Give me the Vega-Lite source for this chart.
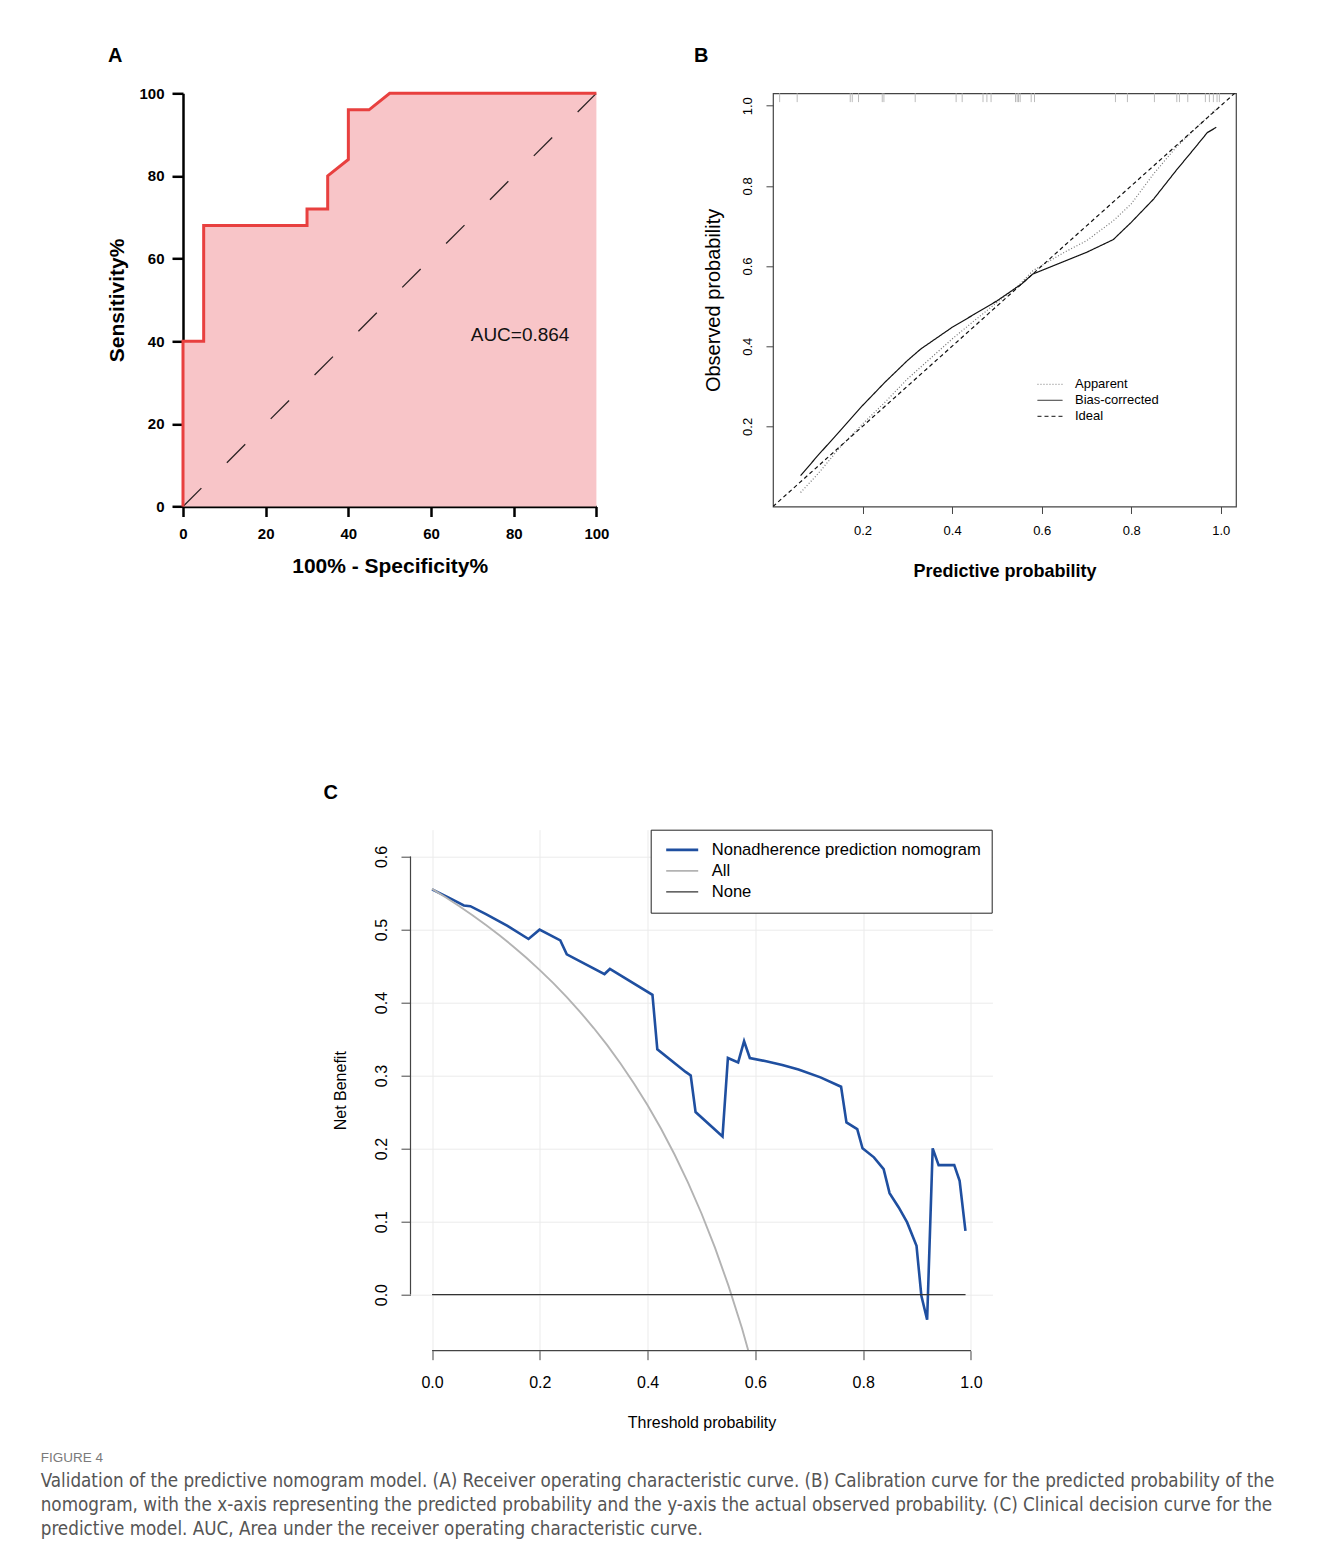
{
  "$schema": "https://vega.github.io/schema/vega-lite/v6.json",
  "background": "white",
  "padding": {"left": 40, "top": 44.3, "right": 5, "bottom": 5},
  "bounds": "full",
  "spacing": 201.4,
  "config": {
    "font": "Liberation Sans",
    "view": {"stroke": null},
    "axis": {"grid": false, "labelColor": "#000", "titleColor": "#000", "tickColor": "#000", "domainColor": "#000", "labelFlush": false, "labelOverlap": false}
  },
  "title": {
    "text": "FIGURE 4",
    "subtitle": [
      "Validation of the predictive nomogram model. (A) Receiver operating characteristic curve. (B) Calibration curve for the predicted probability of the",
      "nomogram, with the x-axis representing the predicted probability and the y-axis the actual observed probability. (C) Clinical decision curve for the",
      "predictive model. AUC, Area under the receiver operating characteristic curve."
    ],
    "orient": "bottom",
    "anchor": "start",
    "frame": "group",
    "dx": -142.3,
    "offset": 20.7,
    "font": "Liberation Sans",
    "fontSize": 13.5,
    "fontWeight": "normal",
    "color": "#7a7a7a",
    "subtitleFont": "DejaVu Sans Condensed, Roboto",
    "subtitleFontSize": 18.7,
    "subtitleColor": "#555555",
    "subtitleLineHeight": 24,
    "subtitlePadding": 7.5
  },
  "datasets": {
    "roc": [
      {"fpr": 0, "tpr": 0, "o": 1},
      {"fpr": 0, "tpr": 40, "o": 2},
      {"fpr": 5, "tpr": 40, "o": 3},
      {"fpr": 5, "tpr": 68, "o": 4},
      {"fpr": 30, "tpr": 68, "o": 5},
      {"fpr": 30, "tpr": 72, "o": 6},
      {"fpr": 35, "tpr": 72, "o": 7},
      {"fpr": 35, "tpr": 80, "o": 8},
      {"fpr": 40, "tpr": 84, "o": 9},
      {"fpr": 40, "tpr": 96, "o": 10},
      {"fpr": 45, "tpr": 96, "o": 11},
      {"fpr": 50, "tpr": 100, "o": 12},
      {"fpr": 100, "tpr": 100, "o": 13}
    ],
    "diag": [{"fpr": 0, "tpr": 0}, {"fpr": 100, "tpr": 100}],
    "rug": [
      {"p": 0.0148}, {"p": 0.054}, {"p": 0.1725}, {"p": 0.177}, {"p": 0.191}, {"p": 0.244}, {"p": 0.2477},
      {"p": 0.3176}, {"p": 0.409}, {"p": 0.4225}, {"p": 0.469}, {"p": 0.4777}, {"p": 0.487}, {"p": 0.5416},
      {"p": 0.5453}, {"p": 0.5483}, {"p": 0.552}, {"p": 0.5766}, {"p": 0.584}, {"p": 0.7648}, {"p": 0.7915},
      {"p": 0.8518}, {"p": 0.9018}, {"p": 0.9077}, {"p": 0.9263}, {"p": 0.9656}, {"p": 0.9746}, {"p": 0.9835},
      {"p": 0.9917}, {"p": 0.9969}
    ],
    "calib": [
      {"series": "Apparent", "x": 0.0616, "y": 0.035},
      {"series": "Apparent", "x": 0.1, "y": 0.081},
      {"series": "Apparent", "x": 0.15, "y": 0.148},
      {"series": "Apparent", "x": 0.2, "y": 0.206},
      {"series": "Apparent", "x": 0.25, "y": 0.26},
      {"series": "Apparent", "x": 0.3, "y": 0.318},
      {"series": "Apparent", "x": 0.35, "y": 0.368},
      {"series": "Apparent", "x": 0.4, "y": 0.418},
      {"series": "Apparent", "x": 0.45, "y": 0.464},
      {"series": "Apparent", "x": 0.5, "y": 0.509},
      {"series": "Apparent", "x": 0.55, "y": 0.553},
      {"series": "Apparent", "x": 0.58, "y": 0.588},
      {"series": "Apparent", "x": 0.65, "y": 0.634},
      {"series": "Apparent", "x": 0.7, "y": 0.663},
      {"series": "Apparent", "x": 0.76, "y": 0.713},
      {"series": "Apparent", "x": 0.8, "y": 0.755},
      {"series": "Apparent", "x": 0.85, "y": 0.83},
      {"series": "Apparent", "x": 0.9, "y": 0.896},
      {"series": "Apparent", "x": 0.95, "y": 0.95},
      {"series": "Apparent", "x": 0.99, "y": 0.992},
      {"series": "Bias-corrected", "x": 0.0616, "y": 0.0769},
      {"series": "Bias-corrected", "x": 0.1, "y": 0.127},
      {"series": "Bias-corrected", "x": 0.15, "y": 0.189},
      {"series": "Bias-corrected", "x": 0.2, "y": 0.252},
      {"series": "Bias-corrected", "x": 0.25, "y": 0.31},
      {"series": "Bias-corrected", "x": 0.3, "y": 0.364},
      {"series": "Bias-corrected", "x": 0.33, "y": 0.393},
      {"series": "Bias-corrected", "x": 0.4, "y": 0.447},
      {"series": "Bias-corrected", "x": 0.45, "y": 0.48},
      {"series": "Bias-corrected", "x": 0.5, "y": 0.513},
      {"series": "Bias-corrected", "x": 0.555, "y": 0.555},
      {"series": "Bias-corrected", "x": 0.58, "y": 0.58},
      {"series": "Bias-corrected", "x": 0.7, "y": 0.634},
      {"series": "Bias-corrected", "x": 0.76, "y": 0.666},
      {"series": "Bias-corrected", "x": 0.8, "y": 0.709},
      {"series": "Bias-corrected", "x": 0.85, "y": 0.767},
      {"series": "Bias-corrected", "x": 0.9, "y": 0.838},
      {"series": "Bias-corrected", "x": 0.94, "y": 0.892},
      {"series": "Bias-corrected", "x": 0.97, "y": 0.933},
      {"series": "Bias-corrected", "x": 0.99, "y": 0.946},
      {"series": "Ideal", "x": 0, "y": 0},
      {"series": "Ideal", "x": 1.031, "y": 1.031}
    ],
    "dca": [
      {"model": "Nonadherence prediction nomogram", "t": 0, "nb": 0.555},
      {"model": "Nonadherence prediction nomogram", "t": 0.03, "nb": 0.544},
      {"model": "Nonadherence prediction nomogram", "t": 0.059, "nb": 0.533},
      {"model": "Nonadherence prediction nomogram", "t": 0.071, "nb": 0.532},
      {"model": "Nonadherence prediction nomogram", "t": 0.1, "nb": 0.521},
      {"model": "Nonadherence prediction nomogram", "t": 0.14, "nb": 0.505},
      {"model": "Nonadherence prediction nomogram", "t": 0.179, "nb": 0.487},
      {"model": "Nonadherence prediction nomogram", "t": 0.1995, "nb": 0.4998},
      {"model": "Nonadherence prediction nomogram", "t": 0.238, "nb": 0.485},
      {"model": "Nonadherence prediction nomogram", "t": 0.25, "nb": 0.466},
      {"model": "Nonadherence prediction nomogram", "t": 0.32, "nb": 0.439},
      {"model": "Nonadherence prediction nomogram", "t": 0.33, "nb": 0.446},
      {"model": "Nonadherence prediction nomogram", "t": 0.409, "nb": 0.4105},
      {"model": "Nonadherence prediction nomogram", "t": 0.418, "nb": 0.336},
      {"model": "Nonadherence prediction nomogram", "t": 0.4706, "nb": 0.305},
      {"model": "Nonadherence prediction nomogram", "t": 0.48, "nb": 0.3},
      {"model": "Nonadherence prediction nomogram", "t": 0.489, "nb": 0.25},
      {"model": "Nonadherence prediction nomogram", "t": 0.539, "nb": 0.2166},
      {"model": "Nonadherence prediction nomogram", "t": 0.549, "nb": 0.324},
      {"model": "Nonadherence prediction nomogram", "t": 0.568, "nb": 0.318},
      {"model": "Nonadherence prediction nomogram", "t": 0.579, "nb": 0.347},
      {"model": "Nonadherence prediction nomogram", "t": 0.5897, "nb": 0.324},
      {"model": "Nonadherence prediction nomogram", "t": 0.62, "nb": 0.3196},
      {"model": "Nonadherence prediction nomogram", "t": 0.65, "nb": 0.3145},
      {"model": "Nonadherence prediction nomogram", "t": 0.68, "nb": 0.3083},
      {"model": "Nonadherence prediction nomogram", "t": 0.7208, "nb": 0.2975},
      {"model": "Nonadherence prediction nomogram", "t": 0.759, "nb": 0.2847},
      {"model": "Nonadherence prediction nomogram", "t": 0.769, "nb": 0.2359},
      {"model": "Nonadherence prediction nomogram", "t": 0.789, "nb": 0.2267},
      {"model": "Nonadherence prediction nomogram", "t": 0.7988, "nb": 0.2003},
      {"model": "Nonadherence prediction nomogram", "t": 0.82, "nb": 0.188},
      {"model": "Nonadherence prediction nomogram", "t": 0.838, "nb": 0.1719},
      {"model": "Nonadherence prediction nomogram", "t": 0.849, "nb": 0.139},
      {"model": "Nonadherence prediction nomogram", "t": 0.866, "nb": 0.1194},
      {"model": "Nonadherence prediction nomogram", "t": 0.8816, "nb": 0.0989},
      {"model": "Nonadherence prediction nomogram", "t": 0.899, "nb": 0.0669},
      {"model": "Nonadherence prediction nomogram", "t": 0.908, "nb": -0.0016},
      {"model": "Nonadherence prediction nomogram", "t": 0.9187, "nb": -0.0345},
      {"model": "Nonadherence prediction nomogram", "t": 0.929, "nb": 0.2003},
      {"model": "Nonadherence prediction nomogram", "t": 0.94, "nb": 0.1774},
      {"model": "Nonadherence prediction nomogram", "t": 0.969, "nb": 0.1774},
      {"model": "Nonadherence prediction nomogram", "t": 0.979, "nb": 0.1559},
      {"model": "Nonadherence prediction nomogram", "t": 0.9898, "nb": 0.0874},
      {"model": "All", "t": 0, "nb": 0.5556},
      {"model": "All", "t": 0.025, "nb": 0.5442},
      {"model": "All", "t": 0.05, "nb": 0.5322},
      {"model": "All", "t": 0.075, "nb": 0.5196},
      {"model": "All", "t": 0.1, "nb": 0.5062},
      {"model": "All", "t": 0.125, "nb": 0.4921},
      {"model": "All", "t": 0.15, "nb": 0.4772},
      {"model": "All", "t": 0.175, "nb": 0.4613},
      {"model": "All", "t": 0.2, "nb": 0.4444},
      {"model": "All", "t": 0.225, "nb": 0.4266},
      {"model": "All", "t": 0.25, "nb": 0.4074},
      {"model": "All", "t": 0.275, "nb": 0.387},
      {"model": "All", "t": 0.3, "nb": 0.3651},
      {"model": "All", "t": 0.325, "nb": 0.3416},
      {"model": "All", "t": 0.35, "nb": 0.3162},
      {"model": "All", "t": 0.375, "nb": 0.2889},
      {"model": "All", "t": 0.4, "nb": 0.2593},
      {"model": "All", "t": 0.425, "nb": 0.2271},
      {"model": "All", "t": 0.45, "nb": 0.1919},
      {"model": "All", "t": 0.475, "nb": 0.1535},
      {"model": "All", "t": 0.5, "nb": 0.1111},
      {"model": "All", "t": 0.525, "nb": 0.0643},
      {"model": "All", "t": 0.55, "nb": 0.0123},
      {"model": "All", "t": 0.575, "nb": -0.0458},
      {"model": "All", "t": 0.6, "nb": -0.1111},
      {"model": "None", "t": 0, "nb": 0},
      {"model": "None", "t": 0.99, "nb": 0}
    ]
  },
  "resolve": {
    "scale": {"color": "independent", "strokeDash": "independent", "strokeWidth": "independent"},
    "legend": {"color": "independent", "strokeDash": "independent"}
  },
  "vconcat": [
    {
      "bounds": "flush",
      "spacing": 176,
      "resolve": {
        "scale": {"color": "independent", "strokeDash": "independent"},
        "legend": {"color": "independent", "strokeDash": "independent"}
      },
      "hconcat": [
        {
          "width": 413.4,
          "height": 413.2,
          "title": {"text": "A", "anchor": "start", "frame": "group", "dx": -75, "offset": 20.6, "fontSize": 20, "fontWeight": "bold", "color": "#000"},
          "layer": [
            {
              "data": {"name": "roc"},
              "mark": {"type": "area", "color": "#f8c5c8"},
              "encoding": {
                "x": {"field": "fpr", "type": "quantitative", "scale": {"domain": [0, 100], "nice": false},
                  "axis": {"values": [0, 20, 40, 60, 80, 100], "title": "100% - Specificity%", "titleFontSize": 21, "titleFontWeight": "bold", "titlePadding": 13.5, "labelFontSize": 15, "labelFontWeight": "bold", "labelPadding": 10.5, "tickSize": 10, "tickWidth": 2.5, "domainWidth": 2.5}},
                "y": {"field": "tpr", "type": "quantitative", "stack": null, "scale": {"domain": [0, 100], "nice": false},
                  "axis": {"values": [0, 20, 40, 60, 80, 100], "title": "Sensitivity%", "titleFontSize": 21, "titleFontWeight": "bold", "titlePadding": 11.6, "labelFontSize": 15, "labelFontWeight": "bold", "labelPadding": 8, "tickSize": 11, "tickWidth": 2.5, "domainWidth": 2.5}}
              }
            },
            {
              "data": {"name": "diag"},
              "mark": {"type": "line", "color": "#2b2424", "strokeWidth": 1.3, "strokeDash": [26, 36]},
              "encoding": {
                "x": {"field": "fpr", "type": "quantitative"},
                "y": {"field": "tpr", "type": "quantitative"}
              }
            },
            {
              "data": {"name": "roc"},
              "mark": {"type": "line", "color": "#e8403f", "strokeWidth": 3},
              "encoding": {
                "x": {"field": "fpr", "type": "quantitative"},
                "y": {"field": "tpr", "type": "quantitative"},
                "order": {"field": "o", "type": "quantitative"}
              }
            },
            {
              "data": {"values": [{"label": "AUC=0.864"}]},
              "mark": {"type": "text", "fontSize": 19, "align": "left", "baseline": "middle", "color": "#111"},
              "encoding": {
                "x": {"datum": 69.6},
                "y": {"datum": 41.5},
                "text": {"field": "label"}
              }
            }
          ]
        },
        {
          "width": 463,
          "height": 413.2,
          "view": {"stroke": "#444", "strokeWidth": 1.2},
          "title": {"text": "B", "anchor": "start", "frame": "group", "dx": -79, "offset": 27.1, "fontSize": 20, "fontWeight": "bold", "color": "#000"},
          "layer": [
            {
              "data": {"name": "rug"},
              "mark": {"type": "rule", "color": "#bbbbbb", "strokeWidth": 1},
              "encoding": {
                "x": {"field": "p", "type": "quantitative", "scale": {"domain": [0, 1.034], "nice": false, "zero": false},
                  "axis": {"values": [0.2, 0.4, 0.6, 0.8, 1.0], "format": ".1f", "domain": false, "tickSize": 7, "tickColor": "#444", "labelFontSize": 13, "labelPadding": 11, "title": "Predictive probability", "titleFontSize": 18, "titleFontWeight": "bold", "titlePadding": 25}},
                "y": {"datum": 1.009, "scale": {"domain": [0, 1.031], "nice": false, "zero": false},
                  "axis": {"values": [0.2, 0.4, 0.6, 0.8, 1.0], "format": ".1f", "domain": false, "tickSize": 7, "tickColor": "#444", "labelAngle": -90, "labelAlign": "center", "labelBaseline": "bottom", "labelPadding": 11, "labelFontSize": 13, "title": "Observed probability", "titleFontSize": 20, "titleFontWeight": "normal", "titlePadding": 18}},
                "y2": {"datum": 1.031}
              }
            },
            {
              "data": {"name": "calib"},
              "mark": {"type": "line", "strokeWidth": 1.2, "clip": true},
              "encoding": {
                "x": {"field": "x", "type": "quantitative"},
                "y": {"field": "y", "type": "quantitative"},
                "color": {"field": "series", "type": "nominal",
                  "scale": {"domain": ["Apparent", "Bias-corrected", "Ideal"], "range": ["#777777", "#111111", "#111111"]},
                  "legend": {"orient": "none", "legendX": 264, "legendY": 283.1, "title": null, "symbolType": "stroke", "symbolSize": 625, "symbolStrokeWidth": 1, "labelFontSize": 13, "labelOffset": 12, "rowPadding": 0, "clipHeight": 15.8, "padding": 0, "labelColor": "#000"}},
                "strokeDash": {"field": "series", "type": "nominal",
                  "scale": {"domain": ["Apparent", "Bias-corrected", "Ideal"], "range": [[1, 2], [1, 0], [4, 3]]},
                  "legend": {"orient": "none", "legendX": 264, "legendY": 283.1, "title": null, "symbolType": "stroke", "symbolSize": 625, "symbolStrokeWidth": 1, "labelFontSize": 13, "labelOffset": 12, "rowPadding": 0, "clipHeight": 15.8, "padding": 0, "labelColor": "#000"}}
              }
            }
          ]
        }
      ]
    },
    {
      "bounds": "flush",
      "spacing": 226.5,
      "resolve": {
        "scale": {"color": "independent", "strokeWidth": "independent"},
        "legend": {"color": "independent"}
      },
      "hconcat": [
        {
          "width": 1,
          "height": 1,
          "data": {"values": []},
          "mark": "point"
        },
        {
          "width": 582,
          "height": 521,
          "title": {"text": "C", "anchor": "start", "frame": "group", "dx": -87, "offset": 26.5, "fontSize": 20, "fontWeight": "bold", "color": "#000"},
          "layer": [
            {
              "data": {"name": "dca"},
              "mark": {"type": "line", "clip": true},
              "encoding": {
                "x": {"field": "t", "type": "quantitative", "scale": {"domain": [-0.04, 1.04], "nice": false, "zero": false},
                  "axis": {"values": [0, 0.2, 0.4, 0.6, 0.8, 1.0], "format": ".1f", "domain": false, "grid": true, "gridColor": "#ebebeb", "tickSize": 9, "tickColor": "#444", "labelFontSize": 16, "labelPadding": 15, "title": "Threshold probability", "titleFontSize": 16, "titleFontWeight": "normal", "titlePadding": 24}},
                "y": {"field": "nb", "type": "quantitative", "scale": {"domain": [-0.0768, 0.6367], "nice": false, "zero": false},
                  "axis": {"values": [0, 0.1, 0.2, 0.3, 0.4, 0.5, 0.6], "format": ".1f", "domain": false, "grid": true, "gridColor": "#ebebeb", "tickSize": 9.5, "tickColor": "#444", "labelAngle": -90, "labelAlign": "center", "labelBaseline": "bottom", "labelPadding": 12, "labelFontSize": 16, "title": "Net Benefit", "titleFontSize": 16, "titleFontWeight": "normal", "titlePadding": 24.6}},
                "color": {"field": "model", "type": "nominal",
                  "scale": {"domain": ["Nonadherence prediction nomogram", "All", "None"], "range": ["#1f4fa0", "#b3b3b3", "#333333"]},
                  "legend": {"orient": "none", "legendX": 240.2, "legendY": 0, "title": null, "symbolType": "stroke", "symbolSize": 1024, "symbolStrokeWidth": 2, "symbolOffset": 4, "labelFontSize": 16.6, "labelOffset": 12, "labelLimit": 400, "rowPadding": 0, "clipHeight": 20.3, "padding": 10, "strokeColor": "#222222", "fillColor": "white", "labelColor": "#000"}},
                "strokeWidth": {"field": "model", "type": "nominal",
                  "scale": {"domain": ["Nonadherence prediction nomogram", "All", "None"], "range": [2.6, 1.2, 1.3]},
                  "legend": null}
              }
            },
            {
              "data": {"values": [{}]},
              "mark": {"type": "rule", "color": "#444", "strokeWidth": 1.2},
              "encoding": {
                "x": {"datum": 0},
                "x2": {"datum": 1},
                "y": {"datum": -0.0768}
              }
            },
            {
              "data": {"values": [{}]},
              "mark": {"type": "rule", "color": "#444", "strokeWidth": 1.2},
              "encoding": {
                "x": {"datum": -0.04},
                "y": {"datum": 0},
                "y2": {"datum": 0.6}
              }
            }
          ]
        }
      ]
    }
  ]
}
